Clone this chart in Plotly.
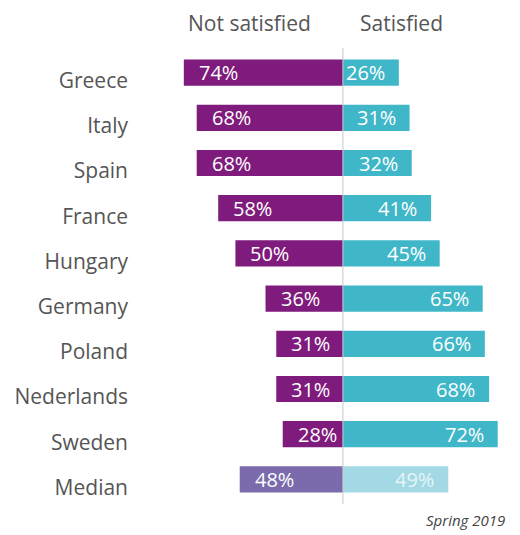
import plotly.graph_objects as go

countries = ["Greece", "Italy", "Spain", "France", "Hungary", "Germany",
             "Poland", "Nederlands", "Sweden", "Median"]
not_satisfied = [74, 68, 68, 58, 50, 36, 31, 31, 28, 48]
satisfied = [26, 31, 32, 41, 45, 65, 66, 68, 72, 49]
headers = ["Not satisfied", "Satisfied"]
footnote = "Spring 2019"

PURPLE = "#7E1B7C"
TEAL = "#40B7C8"
MED_PURPLE = "#7B6BAC"
MED_TEAL = "#A3D9E5"

left_colors = [MED_PURPLE if c == "Median" else PURPLE for c in countries]
right_colors = [MED_TEAL if c == "Median" else TEAL for c in countries]

FONT = "Open Sans"

fig = go.Figure()
fig.add_trace(go.Bar(
    y=countries, x=[-v for v in not_satisfied], orientation="h",
    marker=dict(color=left_colors, line=dict(width=0)), showlegend=False,
    hoverinfo="skip",
))
fig.add_trace(go.Bar(
    y=countries, x=satisfied, orientation="h",
    marker=dict(color=right_colors, line=dict(width=0)), showlegend=False,
    hoverinfo="skip",
))

annotations = []
for c, v in zip(countries, not_satisfied):
    annotations.append(dict(
        x=-v, y=c, xref="x", yref="y", text=f"{v}%", showarrow=False,
        xanchor="left", xshift=13,
        font=dict(family=FONT, size=20, color="white"),
    ))
for c, v in zip(countries, satisfied):
    annotations.append(dict(
        x=v, y=c, xref="x", yref="y", text=f"{v}%", showarrow=False,
        xanchor="right", xshift=-12,
        font=dict(family=FONT, size=20,
                  color="#E4F5F8" if c == "Median" else "white"),
    ))
annotations.append(dict(
    x=0, y=1, xref="x", yref="paper", yshift=27, xshift=-93,
    text=headers[0], showarrow=False, xanchor="center", yanchor="middle",
    font=dict(family=FONT, size=21, color="#555555"),
))
annotations.append(dict(
    x=0, y=1, xref="x", yref="paper", yshift=27, xshift=59,
    text=headers[1], showarrow=False, xanchor="center", yanchor="middle",
    font=dict(family=FONT, size=21, color="#555555"),
))
annotations.append(dict(
    x=1, y=0, xref="paper", yref="paper", yshift=-18, xshift=-3,
    text=f"<i>{footnote}</i>", showarrow=False, xanchor="right", yanchor="middle",
    font=dict(family=FONT, size=15, color="#444444"),
))

fig.add_shape(type="line", x0=0, x1=0, xref="x", y0=-0.005, y1=1.005, yref="paper",
              line=dict(color="#C8C8C8", width=1), layer="above")

fig.update_layout(
    width=512, height=527,
    margin=dict(l=127, r=10, t=42, b=33),
    paper_bgcolor="white", plot_bgcolor="white",
    barmode="overlay", bargap=0.42,
    annotations=annotations,
    xaxis=dict(range=[-96.7, 77.7], visible=False, fixedrange=True, automargin=False),
    yaxis=dict(
        autorange="reversed", showgrid=False, zeroline=False, showline=False,
        automargin=False,
        ticks="", ticklabelshift=-8, ticklabelstandoff=6,
        tickfont=dict(family=FONT, size=21, color="#555555"),
    ),
)

fig.write_html("out.html")
